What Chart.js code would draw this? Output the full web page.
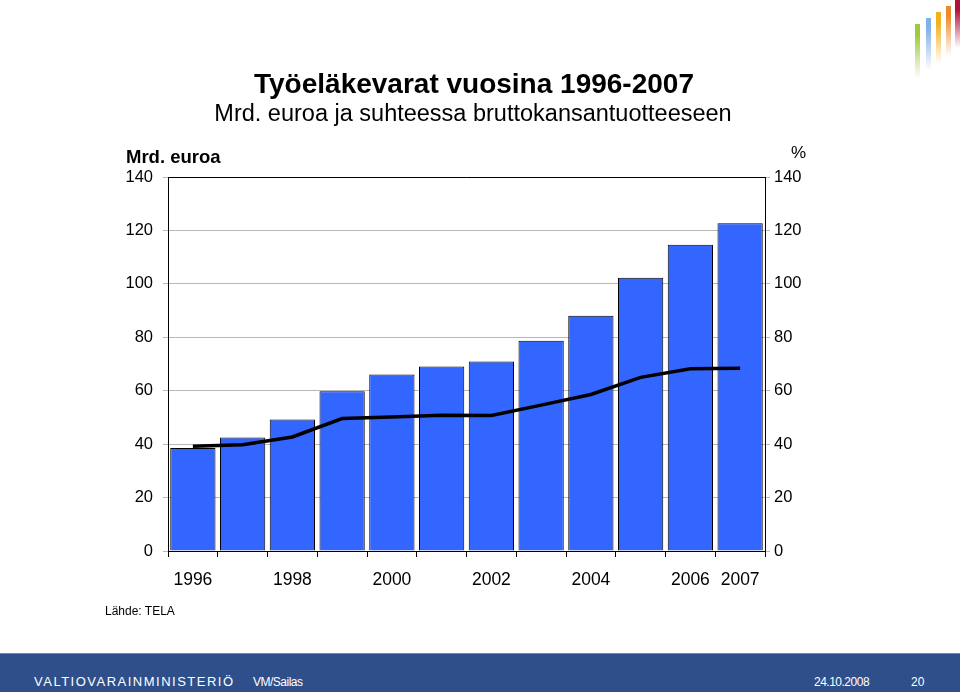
<!DOCTYPE html>
<html>
<head>
<meta charset="utf-8">
<script src="https://cdn.jsdelivr.net/npm/chart.js@4/dist/chart.umd.min.js"></script>
<style>
  body { margin:0; background:#fff; font-family:'Liberation Sans', Arial, sans-serif; }
  #page { position:relative; width:960px; height:692px; overflow:hidden; }
  #chartBox { position:absolute; left:0; top:0; width:960px; height:692px; }
  .txt { position:absolute; white-space:nowrap; color:#000; }
  #title { left:0; width:948px; top:68px; text-align:center; font-weight:bold; font-size:28px; }
  #subtitle { left:0; width:946px; top:100px; text-align:center; font-size:23.5px; }
  #unitLeft { left:126px; top:146px; font-weight:bold; font-size:18.5px; }
  #unitRight { left:791px; top:143px; font-size:17px; }
  #source { left:105px; top:604px; font-size:12px; }
  #footer { position:absolute; left:0; top:653px; width:960px; height:39px; background:#2f4f8a; border-top:1px solid #6d86b3; }
  #footer span { position:absolute; color:#fff; white-space:nowrap; }
  #ministry { left:34px; top:20px; font-size:13px; letter-spacing:1.5px; }
  #author { left:253px; top:21px; font-size:12px; letter-spacing:-0.5px; }
  #date { left:814px; top:21px; font-size:12px; letter-spacing:-0.5px; }
  #pageNo { left:911px; top:21px; font-size:12px; }
  .logo { position:absolute; width:5px; }
</style>
</head>
<body>
<div id="page">
  <div id="chartBox"><canvas id="chart"></canvas></div>
  <div class="txt" id="title">Työeläkevarat vuosina 1996-2007</div>
  <div class="txt" id="subtitle">Mrd. euroa ja suhteessa bruttokansantuotteeseen</div>
  <div class="txt" id="unitLeft">Mrd. euroa</div>
  <div class="txt" id="unitRight">%</div>
  <div class="txt" id="source">Lähde: TELA</div>
  <div class="logo" style="left:915px;top:24px;height:54px;background:linear-gradient(#9fca3c 20%,rgba(159,202,60,0))"></div>
  <div class="logo" style="left:926px;top:18px;height:52px;background:linear-gradient(#7fb2e6 20%,rgba(127,178,230,0))"></div>
  <div class="logo" style="left:936px;top:12px;height:52px;background:linear-gradient(#f2b01c 20%,rgba(242,176,28,0))"></div>
  <div class="logo" style="left:946px;top:6px;height:50px;background:linear-gradient(#ee8a2a 20%,rgba(238,138,42,0))"></div>
  <div class="logo" style="left:955px;top:0px;height:48px;background:linear-gradient(#b0123a 20%,rgba(176,18,58,0))"></div>
  <div id="footer">
    <span id="ministry">VALTIOVARAINMINISTERIÖ</span>
    <span id="author">VM/Sailas</span>
    <span id="date">24.10.2008</span>
    <span id="pageNo">20</span>
  </div>
</div>
<script>
const years = ['1996','1997','1998','1999','2000','2001','2002','2003','2004','2005','2006','2007'];
const tickLabels = ['1996','','1998','','2000','','2002','','2004','','2006','2007'];
const fundsBn = [38.6, 42.5, 49.2, 59.8, 66.1, 69.1, 70.9, 78.7, 88.1, 102.3, 114.6, 122.7];
const shareOfGdp = [39.2, 39.8, 42.7, 49.6, 50.2, 50.8, 50.7, 54.6, 58.6, 65.0, 68.2, 68.4];
const axisTicks = [0, 20, 40, 60, 80, 100, 120, 140];

const family = "'Liberation Sans', Arial, sans-serif";

// top line of the plot frame
const frame = {
  id:'frame',
  afterDatasetsDraw(chart) {
    const {ctx, chartArea:a} = chart;
    ctx.save();
    ctx.strokeStyle = '#000';
    ctx.lineWidth = 1;
    ctx.beginPath();
    ctx.moveTo(a.left, a.top + 0.5);
    ctx.lineTo(a.right, a.top + 0.5);
    ctx.stroke();
    ctx.restore();
  }
};

const yAxis = (position, width, padding) => ({
  position, min:0, max:140,
  afterBuildTicks: s => { s.ticks = axisTicks.map(v => ({value:v})); },
  afterFit: s => { s.width = width; },
  ticks:{color:'#000', font:{family, size:16.5}, padding},
  grid:{color:'#b8b8b8', tickLength:5, drawOnChartArea: position === 'left'},
  border:{color:'#000', width:1}
});

new Chart(document.getElementById('chart'), {
  data:{
    labels:years,
    datasets:[
      {type:'line', label:'% BKT', data:shareOfGdp, yAxisID:'y2', borderColor:'#000', borderWidth:3.5,
       pointRadius:0, tension:0, order:0},
      {type:'bar', label:'Mrd. euroa', data:fundsBn, yAxisID:'y', backgroundColor:'#3366ff',
       borderColor:'#000', borderWidth:1, barPercentage:0.91, categoryPercentage:1, order:1}
    ]
  },
  options:{
    responsive:true, maintainAspectRatio:false, animation:false,
    layout:{padding:{top:177, left:0, right:0, bottom:0}},
    plugins:{legend:{display:false}, tooltip:{enabled:false}},
    scales:{
      x:{
        afterFit: s => { s.height = 141; },
        ticks:{color:'#000', font:{family, size:17.5}, autoSkip:false, maxRotation:0, padding:13,
               callback:(v, i) => tickLabels[i]},
        grid:{offset:true, drawOnChartArea:false, color:'#000', tickLength:6},
        border:{color:'#000', width:1}
      },
      y:yAxis('left', 168, 10),
      y2:yAxis('right', 195, 4)
    }
  },
  plugins:[frame]
});
</script>
</body>
</html>
